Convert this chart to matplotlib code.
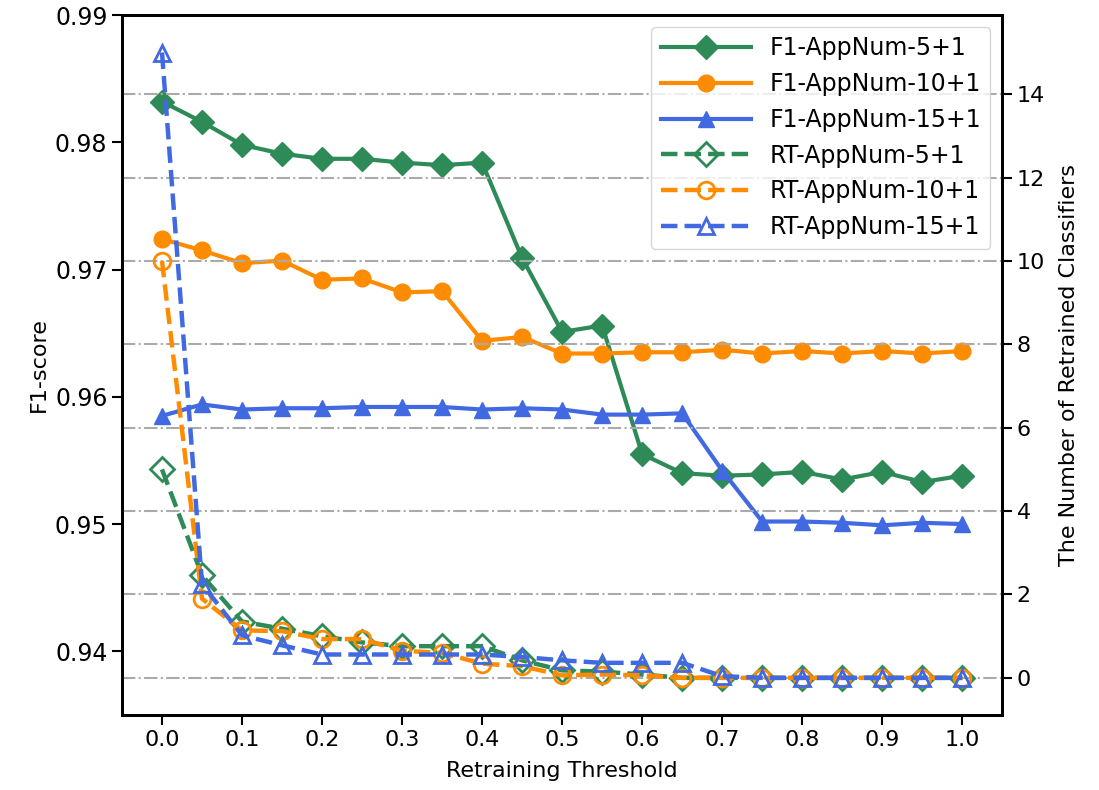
import matplotlib
matplotlib.use('Agg')
import matplotlib.pyplot as plt

# retraining thresholds
thresholds = [0.0, 0.05, 0.1, 0.15, 0.2, 0.25, 0.3, 0.35, 0.4, 0.45, 0.5,
              0.55, 0.6, 0.65, 0.7, 0.75, 0.8, 0.85, 0.9, 0.95, 1.0]

# F1-score (left axis)
f1_app5 = [0.9832, 0.9816, 0.9798, 0.9791, 0.9787, 0.9787, 0.9784, 0.9782, 0.9784, 0.9709, 0.9651,
           0.9656, 0.9555, 0.9540, 0.9538, 0.9539, 0.9541, 0.9535, 0.9541, 0.9533, 0.9538]
f1_app10 = [0.9724, 0.9715, 0.9705, 0.9707, 0.9692, 0.9693, 0.9682, 0.9683, 0.9644, 0.9647, 0.9634,
            0.9634, 0.9635, 0.9635, 0.9637, 0.9634, 0.9636, 0.9634, 0.9636, 0.9634, 0.9636]
f1_app15 = [0.9585, 0.9594, 0.9590, 0.9591, 0.9591, 0.9592, 0.9592, 0.9592, 0.9590, 0.9591, 0.9590,
            0.9586, 0.9586, 0.9587, 0.9542, 0.9502, 0.9502, 0.9501, 0.9499, 0.9501, 0.9500]

# number of retrained classifiers (right axis)
rt_app5 = [5.0, 2.46, 1.35, 1.18, 1.0, 0.85, 0.76, 0.76, 0.76, 0.42, 0.18,
           0.15, 0.08, 0.0, 0.0, 0.0, 0.0, 0.0, 0.0, 0.0, 0.0]
rt_app10 = [10.0, 1.9, 1.14, 1.12, 0.93, 0.93, 0.65, 0.6, 0.34, 0.28, 0.06,
            0.08, 0.06, 0.0, 0.0, 0.0, 0.0, 0.0, 0.0, 0.0, 0.0]
rt_app15 = [15.0, 2.25, 1.02, 0.78, 0.56, 0.56, 0.56, 0.56, 0.56, 0.5, 0.42,
            0.36, 0.36, 0.36, 0.04, 0.0, 0.0, 0.0, 0.0, 0.0, 0.0]

verde = '#2e8b57'
laranja = '#ff8c00'
azul = '#4169e1'

plt.rcParams['font.family'] = ['DejaVu Sans']

fig = plt.figure(figsize=(10.99, 7.9), dpi=100)
ax1 = fig.add_axes([0.111, 0.095, 0.801, 0.886])
ax2 = ax1.twinx()

l1, = ax1.plot(thresholds, f1_app5, color=verde, lw=3, marker='D', ms=12, label='F1-AppNum-5+1')
l2, = ax1.plot(thresholds, f1_app10, color=laranja, lw=3, marker='o', ms=12, label='F1-AppNum-10+1')
l3, = ax1.plot(thresholds, f1_app15, color=azul, lw=3, marker='^', ms=12, label='F1-AppNum-15+1')

l4, = ax2.plot(thresholds, rt_app5, color=verde, lw=3.2, ls='--', marker='D', ms=12,
               mfc='none', mew=2, label='RT-AppNum-5+1')
l5, = ax2.plot(thresholds, rt_app10, color=laranja, lw=3.2, ls='--', marker='o', ms=12,
               mfc='none', mew=2, label='RT-AppNum-10+1')
l6, = ax2.plot(thresholds, rt_app15, color=azul, lw=3.2, ls='--', marker='^', ms=12,
               mfc='none', mew=2, label='RT-AppNum-15+1')

ax1.set_xlim(-0.05, 1.05)
ax1.set_ylim(0.935, 0.99)
ax2.set_ylim(-0.89, 15.9)
ax1.set_xticks([i / 10 for i in range(11)])
ax1.set_xticklabels([f'{i / 10:.1f}' for i in range(11)])
ax1.set_yticks([0.94, 0.95, 0.96, 0.97, 0.98, 0.99])
ax2.set_yticks(range(0, 16, 2))

ax2.grid(True, axis='y', color='#aaaaaa', ls='-.', lw=1.5)

for ax in (ax1, ax2):
    ax.tick_params(labelsize=16, width=1.5, length=7)
    for s in ax.spines.values():
        s.set_linewidth(2)
ax1.tick_params(axis='y', labelsize=17)

ax1.set_xlabel('Retraining Threshold', fontsize=16, labelpad=8)
ax1.set_ylabel('F1-score', fontsize=16)
ax2.set_ylabel('The Number of Retrained Classifiers', fontsize=16, labelpad=10)

linhas = [l1, l2, l3, l4, l5, l6]
ax2.legend(linhas, [l.get_label() for l in linhas], loc='upper right', fontsize=17,
           handlelength=3.8, labelspacing=0.5, borderaxespad=0.5)

fig.savefig('out.png', dpi=100)
